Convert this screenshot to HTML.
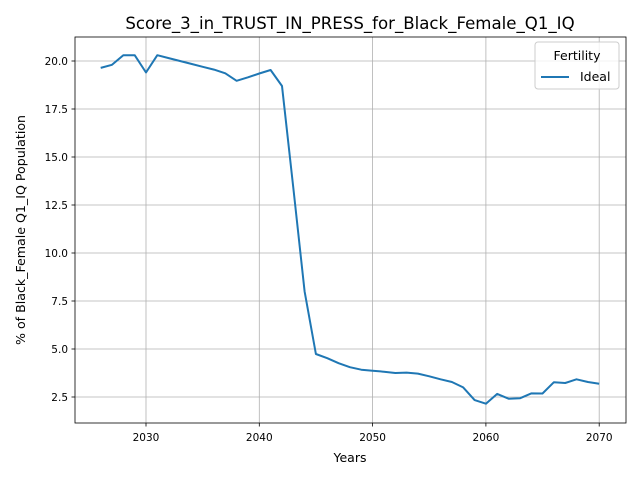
<!DOCTYPE html>
<html><head><meta charset="utf-8"><style>
body{margin:0;background:#fff;}
svg text{font-family:"DejaVu Sans","Liberation Sans",sans-serif;}
</style></head><body>
<svg id="chart" width="640" height="480" viewBox="0 0 640 480">
<text x="350" y="29" font-size="16.6" text-anchor="middle">Score_3_in_TRUST_IN_PRESS_for_Black_Female_Q1_IQ</text>
<g id="grid"></g>
<g id="ticks"></g>
<path id="line" fill="none" stroke="#1f77b4" stroke-width="2" stroke-linejoin="round"></path>
<rect x="75" y="37" width="551" height="386" fill="none" stroke="#000" stroke-width="0.8"></rect>
<text x="350" y="462" font-size="12.5" text-anchor="middle">Years</text>
<text transform="translate(25,230) rotate(-90)" font-size="12.6" text-anchor="middle">% of Black_Female Q1_IQ Population</text>
<g>
<rect x="535" y="42" width="84" height="47" rx="3" fill="#fff" fill-opacity="0.8" stroke="#ccc"></rect>
<text x="577" y="60" font-size="12.5" text-anchor="middle">Fertility</text>
<line x1="541" y1="77" x2="569" y2="77" stroke="#1f77b4" stroke-width="2"></line>
<text x="580" y="81" font-size="12.5">Ideal</text>
</g>
</svg>
<script>
const years=[2026,2027,2028,2029,2030,2031,2032,2033,2034,2035,2036,2037,2038,2039,2040,2041,2042,2043,2044,2045,2046,2047,2048,2049,2050,2051,2052,2053,2054,2055,2056,2057,2058,2059,2060,2061,2062,2063,2064,2065,2066,2067,2068,2069,2070];
const values=[19.64,19.8,20.3,20.3,19.4,20.3,20.15,20.0,19.85,19.7,19.55,19.36,18.97,19.15,19.35,19.53,18.7,13.4,8.0,4.74,4.52,4.26,4.05,3.92,3.87,3.82,3.75,3.77,3.72,3.58,3.42,3.28,3.0,2.34,2.15,2.66,2.41,2.43,2.69,2.68,3.27,3.23,3.42,3.28,3.19];
const xTicks=[2030,2040,2050,2060,2070];
const yTicks=[2.5,5.0,7.5,10.0,12.5,15.0,17.5,20.0];
const ns="http://www.w3.org/2000/svg";
function xs(v){return 146+(v-2030)*11.33;}
function ys(v){return 397-(v-2.5)*19.2;}
const grid=document.getElementById('grid'),ticks=document.getElementById('ticks');
function mk(t,a,p){const e=document.createElementNS(ns,t);for(const k in a)e.setAttribute(k,a[k]);p.appendChild(e);return e;}
xTicks.forEach(t=>{const x=xs(t);
const g=mk('line',{x1:x,x2:x,y1:37,y2:423,stroke:'#b0b0b0','stroke-width':0.8},grid);


mk('line',{x1:x,x2:x,y1:423,y2:426.5,stroke:'#000','stroke-width':0.8},ticks);
const tx=mk('text',{x:x,y:441,'font-size':10.5,'text-anchor':'middle'},ticks);tx.textContent=t;

});
yTicks.forEach(t=>{const y=ys(t);
const g=mk('line',{x1:75,x2:626,y1:y,y2:y,stroke:'#b0b0b0','stroke-width':0.8},grid);


mk('line',{x1:71.5,x2:75,y1:y,y2:y,stroke:'#000','stroke-width':0.8},ticks);
const tx=mk('text',{x:68,y:y+4,'font-size':10.5,'text-anchor':'end'},ticks);tx.textContent=t.toFixed(1);

});
document.getElementById('line').setAttribute('d',years.map((y,i)=>(i?'L':'M')+xs(y).toFixed(1)+','+ys(values[i]).toFixed(1)).join(''));
</script>
</body></html>
